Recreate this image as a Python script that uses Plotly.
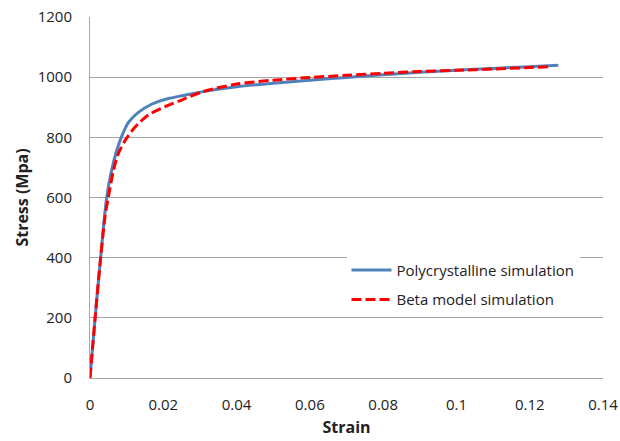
import plotly.graph_objects as go

poly_strain = [0, 0.0014, 0.0029, 0.00455, 0.0059, 0.0073, 0.0087, 0.0105, 0.0132, 0.0168, 0.0214, 0.0259,
               0.0309, 0.04, 0.05, 0.06, 0.07, 0.08, 0.09, 0.1, 0.11, 0.12, 0.1278]
poly_stress = [0, 200, 400, 600, 690, 757, 805, 850, 883, 910, 929, 940,
               952, 968, 980, 990, 999, 1008, 1016, 1023, 1029, 1035, 1040]

beta_strain = [0, 0.0014, 0.0029, 0.0041, 0.005, 0.0064, 0.0077, 0.0096, 0.0123, 0.0159, 0.0205, 0.025,
               0.0309, 0.04, 0.05, 0.06, 0.07, 0.08, 0.09, 0.1, 0.11, 0.12, 0.126]
beta_stress = [0, 200, 400, 537, 600, 690, 745, 790, 834, 874, 902, 924,
               952, 977, 990, 999, 1006, 1013, 1019, 1023, 1027, 1032, 1035]

x_ticks = [0, 0.02, 0.04, 0.06, 0.08, 0.1, 0.12, 0.14]
x_tick_labels = ["0", "0.02", "0.04", "0.06", "0.08", "0.1", "0.12", "0.14"]
y_ticks = [0, 200, 400, 600, 800, 1000, 1200]

fig = go.Figure()
fig.add_trace(go.Scatter(x=poly_strain, y=poly_stress, mode="lines", name="Polycrystalline simulation",
                         legendgroup="poly",
                         line=dict(color="#4F81BD", width=3, shape="spline", smoothing=0.8)))
fig.add_trace(go.Scatter(x=beta_strain, y=beta_stress, mode="lines", name="Beta model simulation",
                         legendgroup="beta",
                         line=dict(color="#FF0000", width=3, dash="10px,4px", shape="spline", smoothing=0.8)))

font_family = "Open Sans, Liberation Sans, sans-serif"
fig.update_layout(
    width=620, height=441,
    margin=dict(l=90, r=17, t=17, b=63, autoexpand=False),
    paper_bgcolor="white", plot_bgcolor="white",
    font=dict(family=font_family, size=14, color="#222"),
    showlegend=True,
    legend=dict(x=0.5, y=0.258, xanchor="left", yanchor="middle", bgcolor="white",
                font=dict(size=15, color="#222"), itemwidth=40, tracegroupgap=7),
)
fig.update_xaxes(range=[0, 0.14], tickvals=x_ticks, ticktext=x_tick_labels, showgrid=False,
                 showline=True, linecolor="#A6A6A6", linewidth=1, zeroline=False, ticks="",
                 ticklabelstandoff=13, automargin=False,
                 title=dict(text="<b>Strain</b>", font=dict(size=16, color="#222"), standoff=8),
                 tickfont=dict(size=15))
fig.update_yaxes(range=[0, 1200], tickvals=y_ticks, showgrid=True, gridcolor="#A6A6A6", gridwidth=1,
                 showline=True, linecolor="#A6A6A6", linewidth=1, zeroline=False, ticks="",
                 ticklabelstandoff=14, automargin=False,
                 title=dict(text="<b>Stress (Mpa)</b>", font=dict(size=16, color="#222"), standoff=5),
                 tickfont=dict(size=15))

fig.write_html("out.html", config={"displayModeBar": False},
               post_script="document.body.style.margin='0';document.body.style.overflow='hidden';")
